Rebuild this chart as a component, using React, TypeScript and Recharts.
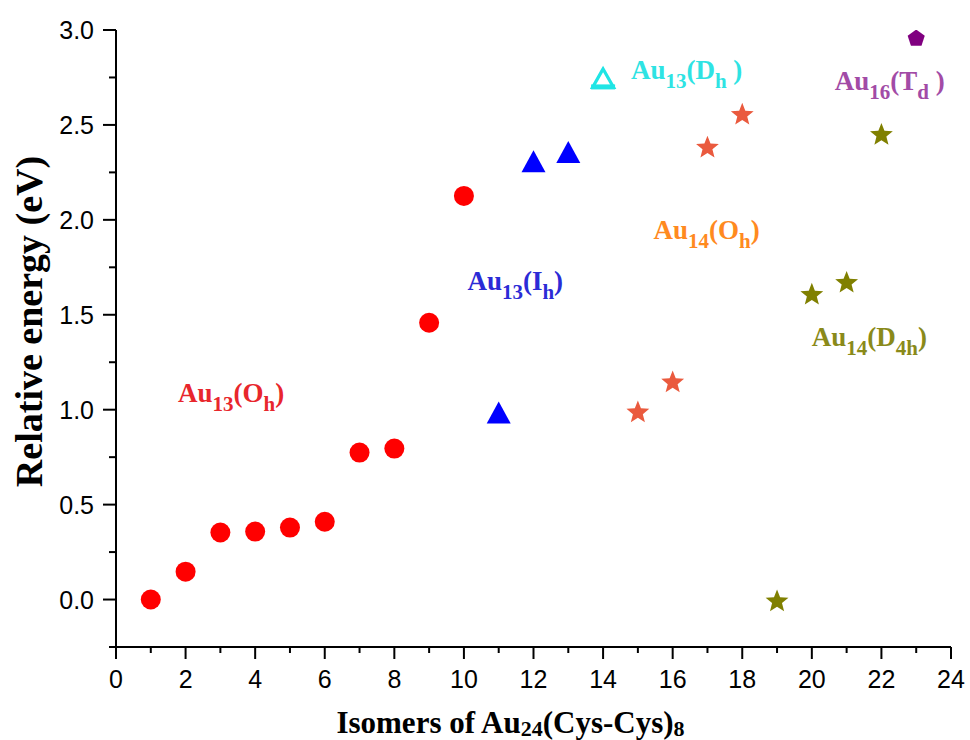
import React from "react";
import { ScatterChart, Scatter, XAxis, YAxis } from "recharts";

// isomer index / relative energy (eV) per structural family
const oh13X = [1, 2, 3, 4, 5, 6, 7, 8, 9, 10];
const oh13Y = [0.0, 0.147, 0.353, 0.358, 0.379, 0.41, 0.774, 0.795, 1.458, 2.126];
const ih13X = [11, 12, 13];
const ih13Y = [0.985, 2.308, 2.358];
const dh13X = [14];
const dh13Y = [2.745];
const oh14X = [15, 16, 17, 18];
const oh14Y = [0.985, 1.143, 2.38, 2.553];
const d4h14X = [19, 20, 21, 22];
const d4h14Y = [-0.01, 1.605, 1.668, 2.447];
const td16X = [23];
const td16Y = [2.955];

const xTicks = [0, 1, 2, 3, 4, 5, 6, 7, 8, 9, 10, 11, 12, 13, 14, 15, 16, 17, 18, 19, 20, 21, 22, 23, 24];
const yTicks = [-0.25, 0, 0.25, 0.5, 0.75, 1, 1.25, 1.5, 1.75, 2, 2.25, 2.5, 2.75, 3];

// annotation text: [text, isSubscript]
const labelParts: [string, boolean][][] = [
  [["Au", false], ["13", true], ["(O", false], ["h", true], [")", false]],
  [["Au", false], ["13", true], ["(I", false], ["h", true], [")", false]],
  [["Au", false], ["13", true], ["(D", false], ["h", true], [" )", false]],
  [["Au", false], ["14", true], ["(O", false], ["h", true], [")", false]],
  [["Au", false], ["14", true], ["(D", false], ["4h", true], [")", false]],
  [["Au", false], ["16", true], ["(T", false], ["d", true], [" )", false]],
];
const labelX = [1.78, 10.1, 14.8, 15.45, 20.0, 20.66];
const labelY = [1.042, 1.63, 2.74, 1.9, 1.337, 2.684];
const labelColors = ["#E8262C", "#2B2BD6", "#2EE3E3", "#FF8A1F", "#8A8A1A", "#A24BA6"];

const zip = (xs: number[], ys: number[]) => xs.map((x, i) => ({ x, y: ys[i] }));

const labelData = labelX.map((x, i) => ({ x, y: labelY[i], parts: labelParts[i], color: labelColors[i] }));

const SERIF = "'Liberation Serif', 'Times New Roman', serif";
const SANS = "'Liberation Sans', Arial, sans-serif";

const starPoints = (cx: number, cy: number, R: number, r: number) => {
  const pts: string[] = [];
  for (let i = 0; i < 10; i++) {
    const rad = i % 2 === 0 ? R : r;
    const a = -Math.PI / 2 + (i * Math.PI) / 5;
    pts.push(`${cx + rad * Math.cos(a)},${cy + rad * Math.sin(a)}`);
  }
  return pts.join(" ");
};

const polyPoints = (cx: number, cy: number, R: number, n: number) => {
  const pts: string[] = [];
  for (let i = 0; i < n; i++) {
    const a = -Math.PI / 2 + (i * 2 * Math.PI) / n;
    pts.push(`${cx + R * Math.cos(a)},${cy + R * Math.sin(a)}`);
  }
  return pts.join(" ");
};

const Dot = (p: any) => <circle cx={p.cx} cy={p.cy} r={10} fill="#FF0000" />;
const BlueTri = (p: any) => (
  <polygon points={`${p.cx},${p.cy - 11} ${p.cx - 12},${p.cy + 11} ${p.cx + 12},${p.cy + 11}`} fill="#0000FF" />
);
const OpenTri = (p: any) => (
  <g>
    <polygon
      points={`${p.cx},${p.cy - 9.5} ${p.cx - 10.5},${p.cy + 9} ${p.cx + 10.5},${p.cy + 9}`}
      fill="#fff"
      stroke="#1FE5E5"
      strokeWidth={3.2}
      strokeLinejoin="miter"
    />
    <rect x={p.cx - 12} y={p.cy + 6} width={24} height={5} fill="#1FE5E5" />
  </g>
);
const RedStar = (p: any) => <polygon points={starPoints(p.cx, p.cy, 12, 5.2)} fill="#EA5A3E" />;
const OliveStar = (p: any) => <polygon points={starPoints(p.cx, p.cy, 12, 5.2)} fill="#808000" />;
const Penta = (p: any) => <polygon points={polyPoints(p.cx, p.cy, 9, 5)} fill="#800080" />;

const Annotation = (p: any) => {
  const parts: [string, boolean][] = p.payload.parts;
  return (
    <text x={p.cx} y={p.cy} fill={p.payload.color} fontFamily={SERIF} fontWeight="bold" fontSize={27}>
      {parts.map(([t, sub], i) => {
        const prevSub = i > 0 && parts[i - 1][1];
        const dy = sub ? 9 : prevSub ? -9 : 0;
        return (
          <tspan key={i} dy={dy} fontSize={sub ? 21 : 27}>
            {t}
          </tspan>
        );
      })}
    </text>
  );
};

const YTick = (props: any) => {
  const { x, y, payload } = props;
  const v = payload.value;
  const major = Math.abs(v * 2 - Math.round(v * 2)) < 1e-6;
  return (
    <g>
      <line x1={x - (major ? 13 : 7)} x2={x} y1={y} y2={y} stroke="#000" strokeWidth={2} />
      {major && (
        <text x={x - 22} y={y + 9} textAnchor="end" fontSize={25} fontFamily={SANS} fill="#000">
          {v.toFixed(1)}
        </text>
      )}
    </g>
  );
};

const XTick = (props: any) => {
  const { x, y, payload } = props;
  const v = payload.value;
  const major = v % 2 === 0;
  return (
    <g>
      <line x1={x} x2={x} y1={y} y2={y + (major ? 12 : 6)} stroke="#000" strokeWidth={2} />
      {major && (
        <text x={x} y={y + 41} textAnchor="middle" fontSize={25} fontFamily={SANS} fill="#000">
          {v}
        </text>
      )}
    </g>
  );
};

const XTitle = (props: any) => {
  const vb = props.viewBox;
  return (
    <text x={vb.x + vb.width / 2 - 23} y={vb.y + 86} textAnchor="middle" fontFamily={SERIF} fontWeight="bold" fontSize={31} fill="#000">
      <tspan>Isomers of Au</tspan>
      <tspan fontSize={22} dy={3}>24</tspan>
      <tspan dy={-3}>(Cys-Cys)</tspan>
      <tspan fontSize={22} dy={3}>8</tspan>
    </text>
  );
};

const YTitle = (props: any) => {
  const vb = props.viewBox;
  const x = vb.x + 6;
  const y = vb.y + vb.height / 2 - 17;
  return (
    <text x={x} y={y} transform={`rotate(-90, ${x}, ${y})`} textAnchor="middle" fontFamily={SERIF} fontWeight="bold" fontSize={38} fill="#000">
      Relative energy (eV)
    </text>
  );
};

export default function App() {
  return (
    <div style={{ position: "absolute", left: 0, top: 0, width: 970, height: 740, background: "#fff" }}>
      <ScatterChart width={970} height={740} margin={{ top: 30, right: 19, left: 36, bottom: 43 }}>
        <XAxis
          type="number"
          dataKey="x"
          domain={[0, 24]}
          ticks={xTicks}
          interval={0}
          height={50}
          tickSize={0}
          tickMargin={0}
          tickLine={false}
          tick={<XTick />}
          axisLine={{ stroke: "#000", strokeWidth: 2 }}
          label={{ content: XTitle }}
        />
        <YAxis
          type="number"
          dataKey="y"
          domain={[-0.25, 3]}
          ticks={yTicks}
          interval={0}
          width={80}
          tickSize={0}
          tickMargin={0}
          tickLine={false}
          tick={<YTick />}
          axisLine={{ stroke: "#000", strokeWidth: 2 }}
          allowDataOverflow
          label={{ content: YTitle }}
        />
        <Scatter data={zip(oh13X, oh13Y)} shape={Dot} isAnimationActive={false} />
        <Scatter data={zip(ih13X, ih13Y)} shape={BlueTri} isAnimationActive={false} />
        <Scatter data={zip(dh13X, dh13Y)} shape={OpenTri} isAnimationActive={false} />
        <Scatter data={zip(oh14X, oh14Y)} shape={RedStar} isAnimationActive={false} />
        <Scatter data={zip(d4h14X, d4h14Y)} shape={OliveStar} isAnimationActive={false} />
        <Scatter data={zip(td16X, td16Y)} shape={Penta} isAnimationActive={false} />
        <Scatter data={labelData} shape={Annotation} isAnimationActive={false} />
      </ScatterChart>
    </div>
  );
}
